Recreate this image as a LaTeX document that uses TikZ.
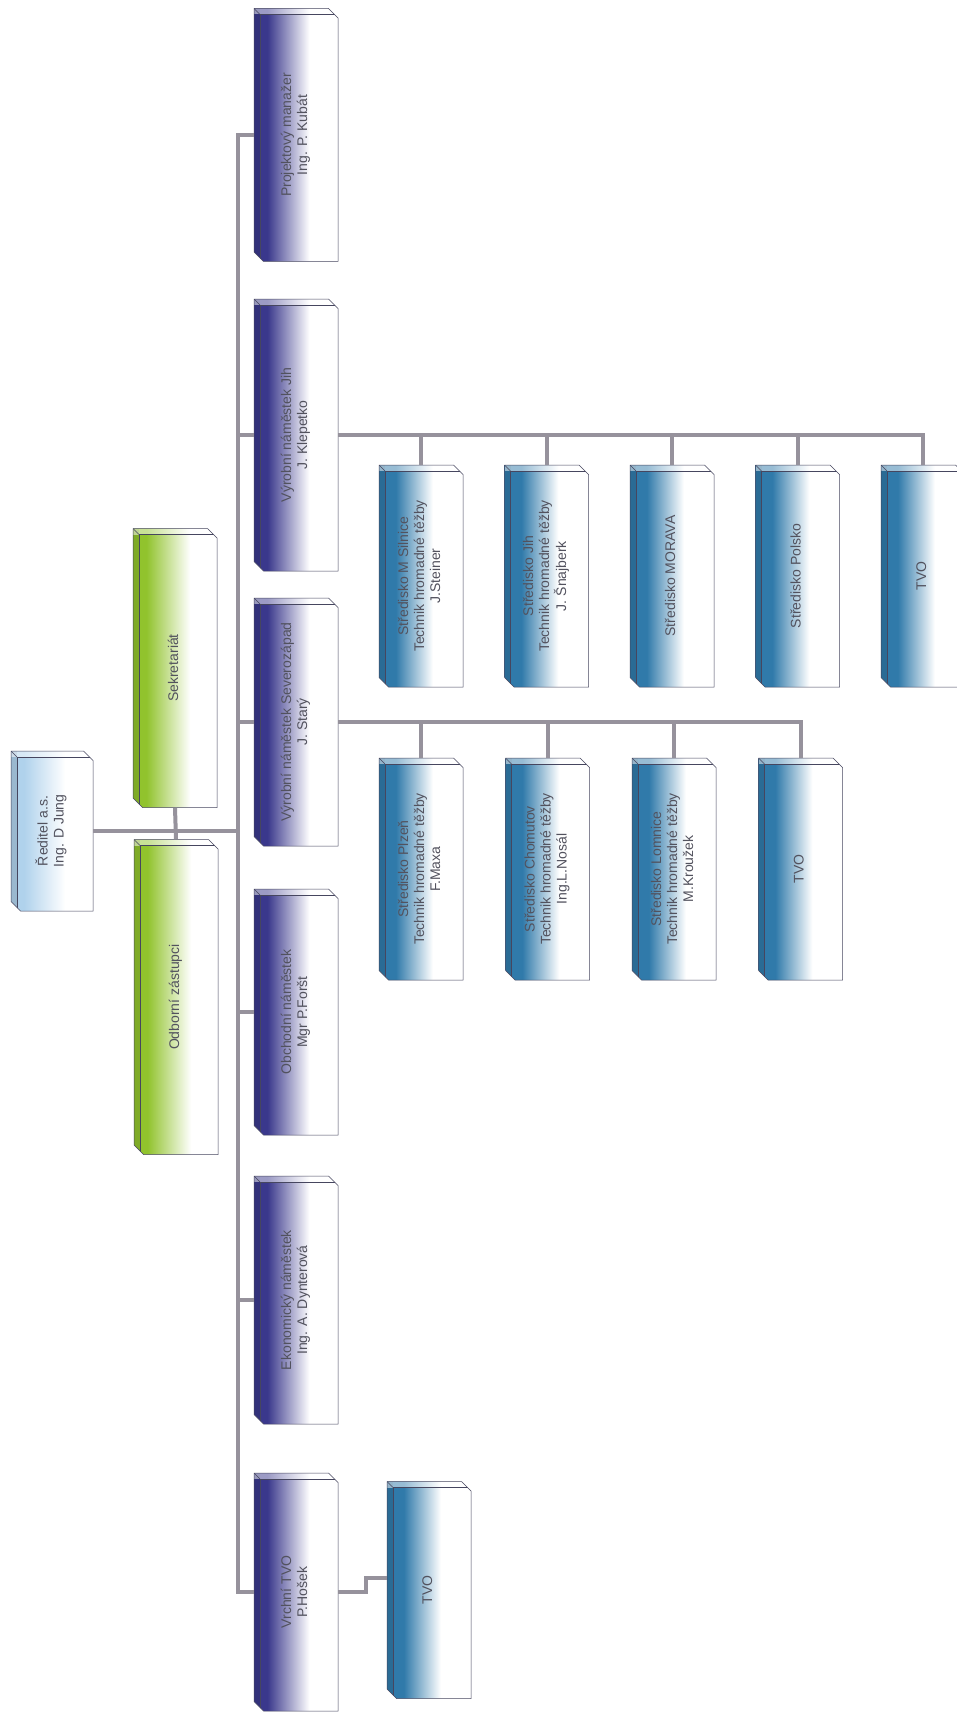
\documentclass[tikz,border=0pt]{standalone}
\usepackage{fontspec}
\setmainfont{Liberation Sans}
\usetikzlibrary{shapes.misc,calc,positioning}

\definecolor{pdark}{RGB}{58,56,140}
\definecolor{bdark}{RGB}{48,122,170}
\definecolor{gdark}{RGB}{145,195,45}
\definecolor{rdark}{RGB}{176,210,236}
\definecolor{linkgray}{RGB}{150,146,156}
\definecolor{edge}{RGB}{70,70,95}
\definecolor{txt}{RGB}{82,82,94}

\pgfdeclarehorizontalshading{rshade}{100bp}{color(0bp)=(rdark); color(33bp)=(rdark); color(58bp)=(white); color(100bp)=(white)}
\pgfdeclarehorizontalshading{gshade}{100bp}{color(0bp)=(gdark); color(33bp)=(gdark); color(59bp)=(white); color(100bp)=(white)}
\pgfdeclarehorizontalshading{pshade}{100bp}{color(0bp)=(pdark); color(33bp)=(pdark); color(58bp)=(white); color(100bp)=(white)}
\pgfdeclarehorizontalshading{bshade}{100bp}{color(0bp)=(bdark); color(35bp)=(bdark); color(57bp)=(white); color(100bp)=(white)}

\newcommand{\vtext}[1]{\rotatebox{90}{\begin{tabular}{@{}c@{}}#1\end{tabular}}}
\newcommand{\ppb}{path picture bounding box}

\tikzstyle{unit} = [
        chamfered rectangle, chamfered rectangle corners={north east,south west},
        chamfered rectangle xsep=6pt, draw=edge, line width=0.5pt,
        inner sep=0pt, minimum width=84pt, text=txt, shade, shading angle=0,
        font=\fontsize{14}{16}\selectfont,
        path picture={
            \fill [black, opacity=.12] (\ppb.north west) rectangle ([xshift=6pt]\ppb.south west);
            \fill [white, opacity=.5] (\ppb.north west) rectangle ([yshift=-6pt]\ppb.north east);
            \draw [edge, line width=.4pt] ([xshift=6pt]\ppb.south west)
                -- ([xshift=6pt, yshift=-6pt]\ppb.north west) -- ([yshift=-6pt]\ppb.north east);
            \draw [edge, line width=.4pt] (\ppb.north west) -- ([xshift=6pt, yshift=-6pt]\ppb.north west);
        }
    ]
\tikzstyle{boss}   = [unit, shading=rshade, minimum width=82pt]
\tikzstyle{staff}  = [unit, shading=gshade]
\tikzstyle{deputy} = [unit, shading=pshade]
\tikzstyle{centre} = [unit, shading=bshade, minimum height=222pt]
\tikzstyle{link}   = [draw=linkgray, line width=4pt]
\tikzstyle{tmp}    = [coordinate]

\begin{document}
\begin{tikzpicture}[x=1pt, y=-1pt]
        \useasboundingbox [fill=white] (0,0) rectangle (957,1712);
        \node [boss, minimum height=160pt] (reditel) at (52,831) {\vtext{Ředitel a.s.\\Ing. D Jung}};
        \node [staff, minimum height=279pt] (sekr) at (175,668) {\vtext{Sekretariát}};
        \node [staff, minimum height=315pt] (odb) at (176,997) {\vtext{Odborní zástupci}};
        \node [tmp] (trunk) at (238,0) {};

        \node [deputy, minimum height=253pt] (proj) at (296,135) {\vtext{Projektový manažer\\Ing. P. Kubát}};
        \node [deputy, minimum height=272pt, below of=proj, node distance=300pt] (jih) {\vtext{Výrobní náměstek Jih\\J. Klepetko}};
        \node [deputy, minimum height=248pt, below of=jih, node distance=287pt] (szap) {\vtext{Výrobní náměstek Severozápad\\J. Starý}};
        \node [deputy, minimum height=246pt, below of=szap, node distance=290pt] (obch) {\vtext{Obchodní náměstek\\Mgr P.Foršt}};
        \node [deputy, minimum height=248pt, below of=obch, node distance=288pt] (ekon) {\vtext{Ekonomický náměstek\\Ing. A. Dynterová}};
        \node [deputy, minimum height=238pt, below of=ekon, node distance=292pt] (vrchni) {\vtext{Vrchní TVO\\P.Hošek}};

        \node [centre] (jih1) at (421,576) {\vtext{Středisko M Silnice\\Technik hromadné těžby\\J.Steiner}};
        \node [centre, right of=jih1, node distance=125.5pt] (jih2) {\vtext{Středisko Jih\\Technik hromadné těžby\\J. Šnajberk}};
        \node [centre, right of=jih2, node distance=125.5pt] (jih3) {\vtext{Středisko MORAVA}};
        \node [centre, right of=jih3, node distance=125.5pt] (jih4) {\vtext{Středisko Polsko}};
        \node [centre, right of=jih4, node distance=125.5pt] (jih5) {\vtext{TVO}};

        \node [centre] (sz1) at (421,869) {\vtext{Středisko Plzeň\\Technik hromadné těžby\\F.Maxa}};
        \node [centre, right of=sz1, node distance=126.5pt] (sz2) {\vtext{Středisko Chomutov\\Technik hromadné těžby\\Ing.L.Nosál}};
        \node [centre, right of=sz2, node distance=126.5pt] (sz3) {\vtext{Středisko Lomnice\\Technik hromadné těžby\\M.Kroužek}};
        \node [centre, right of=sz3, node distance=126.5pt] (sz4) {\vtext{TVO}};

        \node [centre, minimum height=217pt] (tvo1) at (429,1590) {\vtext{TVO}};
        \node [tmp] (tvoin) at ($(tvo1.west)+(0,-12)$) {};

        \draw [link] (reditel.east) -- (reditel.east -| trunk);
        \draw [link] (sekr.south) -- (odb.north);
        \draw [link] (proj.west) -| (vrchni.west -| trunk) -- (vrchni.west);
        \foreach \n in {jih,szap,obch,ekon}
            \draw [link] (\n.west) -- (\n.west -| trunk);
        \draw [link] (jih.east) -| (jih5.north);
        \foreach \i in {1,...,4}
            \draw [link] (jih\i.north) -- (jih\i.north |- jih.east);
        \draw [link] (szap.east) -| (sz4.north);
        \foreach \i in {1,...,3}
            \draw [link] (sz\i.north) -- (sz\i.north |- szap.east);
        \draw [link] (vrchni.east) -- ++(28,0) |- (tvoin);
    \end{tikzpicture}
\end{document}
